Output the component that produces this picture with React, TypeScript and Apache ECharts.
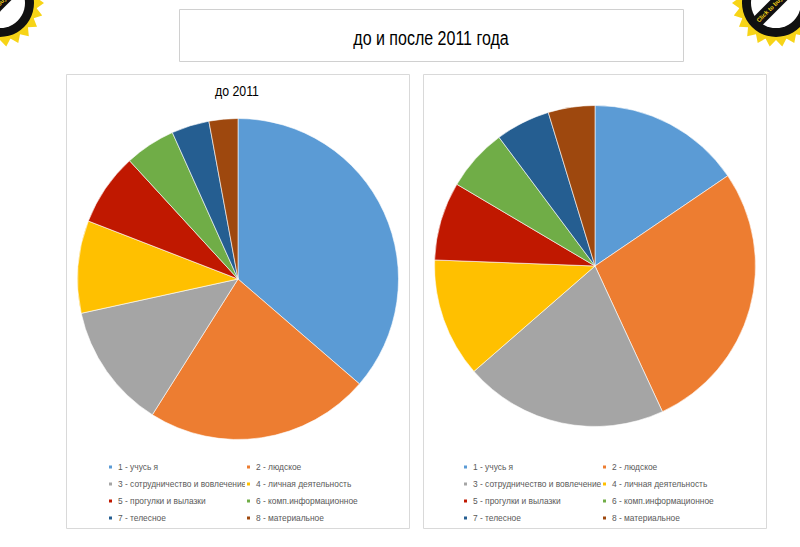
import React, { useEffect, useRef } from "react";
import * as echarts from "echarts";

const categories = [
  "1 - учусь я",
  "2 - людское",
  "3 - сотрудничество и вовлечение",
  "4 - личная деятельность",
  "5 - прогулки и вылазки",
  "6 - комп.информационное",
  "7 - телесное",
  "8 - материальное",
];
const before2011 = [36.3, 22.6, 12.6, 9.3, 7.3, 5.1, 3.8, 2.9];
const after2011 = [15.5, 27.6, 20.5, 12.0, 7.9, 6.3, 5.5, 4.7];
const colors = ["#5B9BD5", "#ED7D31", "#A5A5A5", "#FFC000", "#C01800", "#70AD47", "#255E91", "#9E480E"];
const mainTitle = "до и после 2011 года";
const leftTitle = "до 2011";

const font = "'Liberation Sans', Arial, sans-serif";

function gearPoints(rOut: number, rIn: number, teeth: number): number[][] {
  const pts: number[][] = [];
  const n = teeth * 2;
  for (let i = 0; i < n; i++) {
    const a = (i / n) * Math.PI * 2;
    const r = i % 2 === 0 ? rOut : rIn;
    pts.push([Math.cos(a) * r, Math.sin(a) * r]);
  }
  return pts;
}

function logo(x: number, y: number) {
  return {
    type: "group",
    x,
    y,
    children: [
      { type: "polygon", shape: { points: gearPoints(44, 37, 22) }, style: { fill: "#F7D417" } },
      { type: "circle", shape: { cx: 0, cy: 0, r: 37 }, style: { fill: "#F7D417" } },
      { type: "circle", shape: { cx: 0, cy: 0, r: 34 }, style: { fill: "#111" } },
      { type: "circle", shape: { cx: 0, cy: 0, r: 25 }, style: { fill: "#fff" } },
      {
        type: "rect",
        rotation: Math.PI / 4,
        shape: { x: -30, y: -6, width: 60, height: 12 },
        style: { fill: "#111" },
      },
      {
        type: "text",
        rotation: Math.PI / 4,
        style: {
          x: 0,
          y: 0,
          text: "Click to buy NOW!",
          fill: "#F7D417",
          font: "bold 6px sans-serif",
          align: "center",
          verticalAlign: "middle",
        },
      },
    ],
  };
}

function legend(left: number, names: string[]) {
  return {
    orient: "vertical",
    left,
    top: 456,
    data: names,
    icon: "rect",
    itemWidth: 5,
    itemHeight: 5,
    itemGap: 5,
    selectedMode: false,
    textStyle: { fontSize: 8.4, color: "#595959", lineHeight: 12, fontFamily: font },
  };
}

function pie(center: number[], values: number[]) {
  return {
    type: "pie",
    center,
    radius: 160.5,
    startAngle: 90,
    clockwise: true,
    silent: true,
    label: { show: false },
    labelLine: { show: false },
    itemStyle: { borderColor: "#fff", borderWidth: 0.6 },
    data: categories.map((name, i) => ({ name, value: values[i], itemStyle: { color: colors[i] } })),
  };
}

export default function App() {
  const ref = useRef<HTMLDivElement>(null);
  useEffect(() => {
    if (!ref.current) return;
    const chart = echarts.init(ref.current, undefined, { renderer: "svg" });
    const odd = categories.filter((_, i) => i % 2 === 0);
    const even = categories.filter((_, i) => i % 2 === 1);
    chart.setOption({
      animation: false,
      backgroundColor: "#fff",
      legend: [legend(102, odd), legend(240, even), legend(457, odd), legend(596, even)],
      graphic: [
        {
          type: "rect",
          z: -10,
          shape: { x: 179.5, y: 9.5, width: 504, height: 52 },
          style: { fill: "#fff", stroke: "#d0d0d0", lineWidth: 1 },
        },
        {
          type: "rect",
          z: -10,
          shape: { x: 66.5, y: 74.5, width: 343, height: 454 },
          style: { fill: "#fff", stroke: "#d9d9d9", lineWidth: 1 },
        },
        {
          type: "rect",
          z: -10,
          shape: { x: 423.5, y: 74.5, width: 343, height: 454 },
          style: { fill: "#fff", stroke: "#d9d9d9", lineWidth: 1 },
        },
        {
          type: "text",
          x: 431,
          y: 38,
          scaleX: 0.8,
          style: {
            x: 0,
            y: 0,
            text: mainTitle,
            fill: "#000",
            font: "20px " + font,
            align: "center",
            verticalAlign: "middle",
          },
        },
        {
          type: "text",
          x: 237,
          y: 91,
          scaleX: 0.88,
          style: {
            x: 0,
            y: 0,
            text: leftTitle,
            fill: "#000",
            font: "14px " + font,
            align: "center",
            verticalAlign: "middle",
          },
        },
        logo(0, 3),
        logo(776, 3),
      ],
      series: [pie([238, 279], before2011), pie([595, 266], after2011)],
    });
    return () => chart.dispose();
  }, []);
  return (
    <div
      ref={ref}
      style={{ position: "fixed", left: 0, top: 0, width: 800, height: 547, background: "#fff" }}
    />
  );
}
